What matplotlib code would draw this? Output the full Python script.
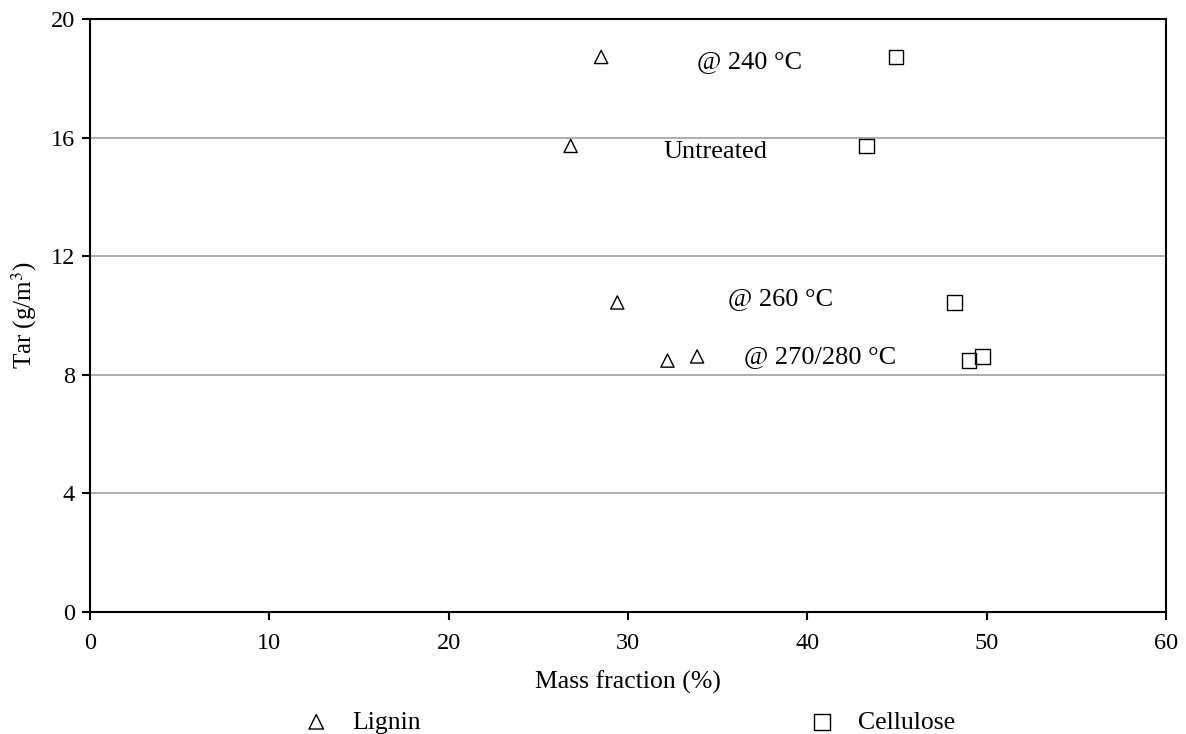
import matplotlib.pyplot as plt
import numpy as np

plt.rcParams['font.family'] = ['Liberation Serif', 'DejaVu Serif']
plt.rcParams['mathtext.fontset'] = 'stix'

# data (mass fraction %, tar g/m3)
lignin_x = [28.5, 26.8, 29.4, 32.2, 33.85]
lignin_y = [18.72, 15.72, 10.44, 8.48, 8.62]
cellulose_x = [44.95, 43.3, 48.2, 49.0, 49.75]
cellulose_y = [18.72, 15.72, 10.44, 8.48, 8.62]

labels = ['@ 240 °C', 'Untreated', '@ 260 °C', '@ 270/280 °C']
label_x = [36.8, 34.9, 38.5, 40.7]
label_y = [18.55, 15.5, 10.55, 8.6]

fig = plt.figure(figsize=(11.86, 7.34), dpi=100)
ax = fig.add_axes([0.0759, 0.1662, 0.9073, 0.8079])

ax.scatter(lignin_x, lignin_y, marker='^', s=90, facecolors='none',
           edgecolors='black', linewidths=1.0, zorder=3, label='Lignin')
ax.scatter(cellulose_x, cellulose_y, marker='s', s=110, facecolors='none',
           edgecolors='black', linewidths=1.0, zorder=3, label='Cellulose')

for t, x, y in zip(labels, label_x, label_y):
    ax.text(x, y, t, fontsize=19, ha='center', va='center')

ax.set_xlim(0, 60)
ax.set_ylim(0, 20)
ax.set_xticks(np.arange(0, 61, 10))
ax.set_yticks(np.arange(0, 21, 4))
ax.yaxis.grid(True, color='#a0a0a0', linewidth=1.2)
ax.set_axisbelow(True)
ax.tick_params(labelsize=17.5, direction='out', length=6, width=1.5)
ax.tick_params(axis='x', pad=9)
ax.tick_params(axis='y', pad=5)
for s in ax.spines.values():
    s.set_linewidth(1.5)

ax.set_xlabel('Mass fraction (%)', fontsize=18.5, labelpad=12)
ax.set_ylabel('Tar (g/m$^3$)', fontsize=18, labelpad=8)

leg = fig.legend(loc='center', bbox_to_anchor=(0.525, 0.0163), ncol=2,
                 frameon=False, fontsize=18.5, columnspacing=14.6,
                 handletextpad=0.4, markerscale=1.1, borderpad=0)

plt.savefig('out.png', dpi=100)
